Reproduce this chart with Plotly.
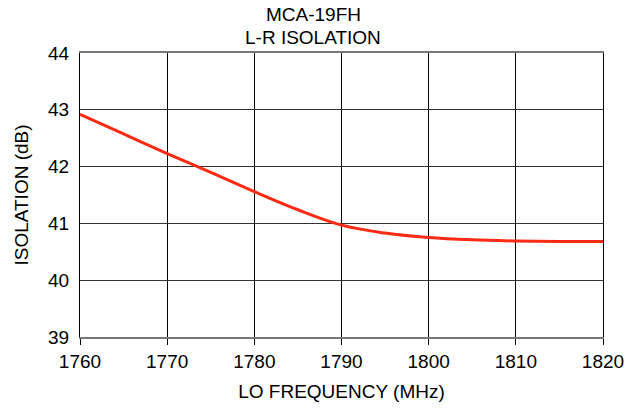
import plotly.graph_objects as go

freq = [1760, 1765, 1770, 1775, 1780, 1785, 1790, 1795, 1800, 1805, 1810, 1815, 1820]
isolation = [42.92, 42.575, 42.23, 41.90, 41.56, 41.24, 40.97, 40.83, 40.75, 40.71, 40.69, 40.68, 40.68]
x_ticks = [1760, 1770, 1780, 1790, 1800, 1810, 1820]
y_ticks = [39, 40, 41, 42, 43, 44]

FONT = "Liberation Sans, Arial, sans-serif"
W, H = 641, 412
L, T = 80, 53
PW, PH = 523, 284
R, B = W - L - PW, H - T - PH

fig = go.Figure()
fig.add_trace(go.Scatter(
    x=freq, y=isolation, mode="lines",
    line=dict(color="#ff2a14", width=3, shape="spline", smoothing=1.0),
    showlegend=False, hoverinfo="skip",
))

fig.update_layout(
    width=W, height=H,
    margin=dict(l=L, r=R, t=T, b=B, autoexpand=False),
    paper_bgcolor="white", plot_bgcolor="white",
    font=dict(family=FONT, size=19, color="black"),
)
title_x = (313 - L) / PW
fig.add_annotation(text="MCA-19FH", xref="paper", yref="paper",
                   x=title_x, y=1 + (T - 14) / PH, yanchor="middle",
                   showarrow=False, font=dict(size=19, family=FONT))
fig.add_annotation(text="L-R ISOLATION", xref="paper", yref="paper",
                   x=title_x, y=1 + (T - 38) / PH, yanchor="middle",
                   showarrow=False, font=dict(size=19, family=FONT))

fig.update_xaxes(
    range=[1760, 1820], tickvals=x_ticks, ticktext=[str(v) for v in x_ticks],
    showgrid=True, gridcolor="black", gridwidth=1,
    showline=True, linecolor="#777777", linewidth=2, mirror=True,
    ticks="outside", ticklen=6, tickcolor="black", tickwidth=1,
    zeroline=False, automargin=False,
    title=dict(text="LO FREQUENCY (MHz)", standoff=14, font=dict(size=19)),
    tickfont=dict(size=19),
)
fig.update_yaxes(
    range=[39, 44], tickvals=y_ticks, ticktext=[str(v) for v in y_ticks],
    showgrid=True, gridcolor="#333333", gridwidth=1,
    showline=True, linecolor="black", linewidth=1, mirror=True,
    ticks="outside", ticklen=6, tickcolor="rgba(0,0,0,0)", zeroline=False, automargin=False,
    title=dict(text="ISOLATION (dB)", standoff=14, font=dict(size=19)),
    tickfont=dict(size=19),
)

fig.write_html(
    "out.html",
    config={"displayModeBar": False, "staticPlot": True},
    post_script="document.body.style.margin='0';document.body.style.overflow='hidden';",
)
